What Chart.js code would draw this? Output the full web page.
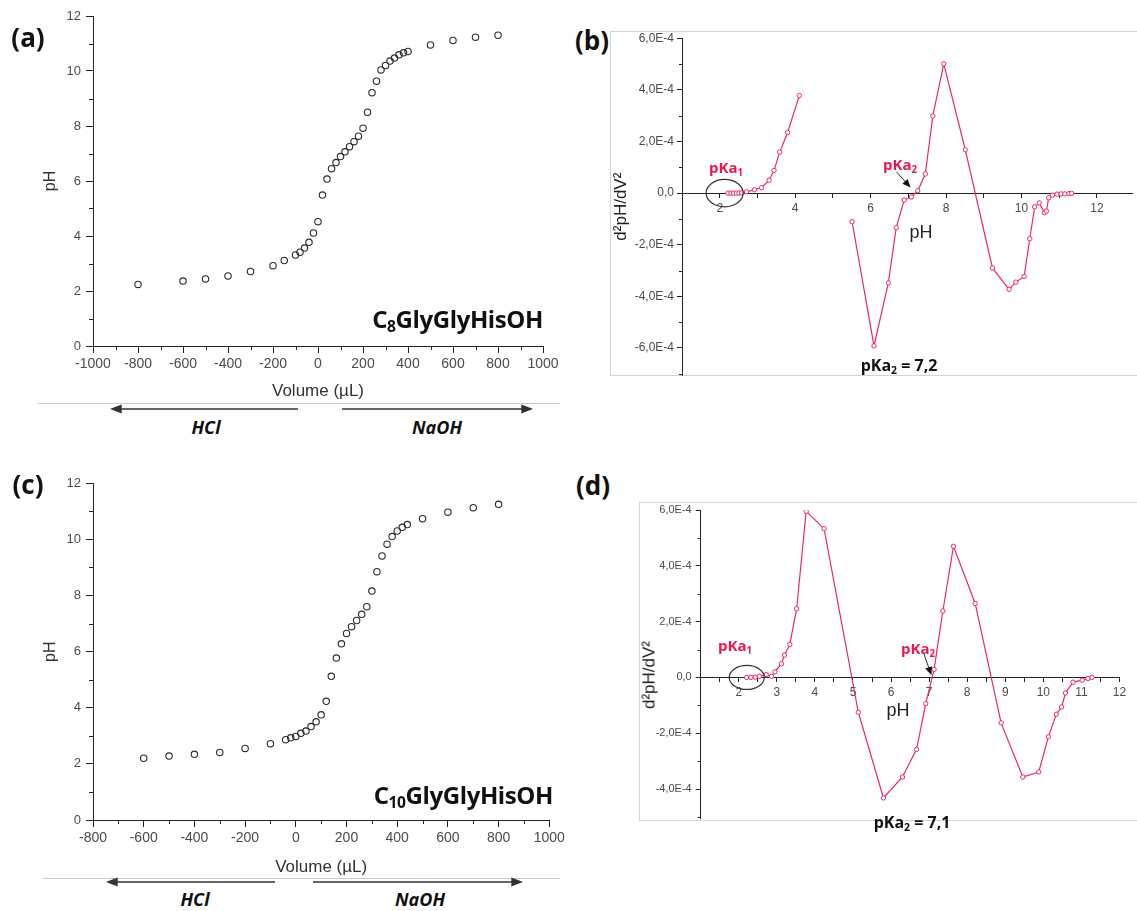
<!DOCTYPE html>
<html>
<head>
<meta charset="utf-8">
<title>Potentiometric titration of C8 / C10 GlyGlyHisOH</title>
<script src="https://cdn.jsdelivr.net/npm/chart.js@4.4.1/dist/chart.umd.min.js"></script>
<style>
  html, body { margin: 0; padding: 0; background: #fff; }
  #page { position: relative; width: 1137px; height: 911px; overflow: hidden; background: #fff; }
  #page canvas, #page svg { position: absolute; }
  .t { position: absolute; line-height: 1; white-space: nowrap; transform: translate(-50%, -50%);
       font-family: 'Open Sans', 'Noto Sans', sans-serif; font-weight: 700; color: #111; }
  .red { color: #e8194f; font-size: 15px; }
  .ax { font-family: 'Liberation Sans', Arial, sans-serif; font-weight: 400; color: #222; font-size: 18px; }
  .acid { font-style: italic; font-size: 18px; }
  .cmp { position: absolute; line-height: 1; white-space: nowrap; font-family: 'Open Sans', 'Noto Sans', sans-serif;
         font-weight: 700; font-size: 24px; letter-spacing: -0.4px; color: #111; }
  .sb { font-size: 0.65em; position: relative; top: 0.28em; }
</style>
</head>
<body>
<div id="page">
  <svg width="1137" height="911">
    <line x1="38" y1="403.5" x2="560" y2="403.5" stroke="#c9c9c9" />
    <line x1="43" y1="878.5" x2="560" y2="878.5" stroke="#c9c9c9" />
    <rect x="610.5" y="31.5" width="540" height="344" fill="none" stroke="#d4d4d4" />
    <rect x="639.5" y="502.5" width="510" height="318" fill="none" stroke="#d4d4d4" />
    <g stroke="#333" stroke-width="1.4" fill="#333">
      <line x1="119" y1="409" x2="298" y2="409" /><polygon points="112,409 121,405.5 121,412.5" />
      <line x1="342" y1="409" x2="524" y2="409" /><polygon points="531,409 522,405.5 522,412.5" />
      <line x1="115" y1="882" x2="275" y2="882" /><polygon points="108,882 117,878.5 117,885.5" />
      <line x1="313" y1="882" x2="514" y2="882" /><polygon points="521,882 512,878.5 512,885.5" />
    </g>
  </svg>

  <canvas id="chartA" width="570" height="405" style="left:0;top:0"></canvas>
  <canvas id="chartB" width="527" height="370" style="left:610px;top:20px"></canvas>
  <canvas id="chartC" width="570" height="416" style="left:0;top:465px"></canvas>
  <canvas id="chartD" width="498" height="335" style="left:639px;top:495px"></canvas>

  <div class="t" style="left:28px;top:37px;font-size:26px">(a)</div>
  <div class="t" style="left:592px;top:40px;font-size:26px">(b)</div>
  <div class="t" style="left:28px;top:484px;font-size:26px">(c)</div>
  <div class="t" style="left:593px;top:485px;font-size:26px">(d)</div>

  <div class="cmp" style="top:306.7px;right:594px">C<span class="sb">8</span>GlyGlyHisOH</div>
  <div class="cmp" style="top:782.7px;right:584px">C<span class="sb">10</span>GlyGlyHisOH</div>

  <div class="t acid" style="left:206px;top:427px">HCl</div>
  <div class="t acid" style="left:437px;top:427px">NaOH</div>
  <div class="t acid" style="left:195px;top:899px">HCl</div>
  <div class="t acid" style="left:420px;top:899px">NaOH</div>

  <div class="t red" style="left:726px;top:167px">pKa<span class="sb">1</span></div>
  <div class="t red" style="left:900px;top:164px">pKa<span class="sb">2</span></div>
  <div class="t" style="left:899px;top:365px;font-size:16px">pKa<span class="sb">2</span> = 7,2</div>
  <div class="t ax" style="left:921px;top:232px">pH</div>

  <div class="t red" style="left:735px;top:645px">pKa<span class="sb">1</span></div>
  <div class="t red" style="left:918px;top:648px">pKa<span class="sb">2</span></div>
  <div class="t" style="left:912px;top:822px;font-size:16px">pKa<span class="sb">2</span> = 7,1</div>
  <div class="t ax" style="left:898px;top:710px">pH</div>
  <div class="t ax" style="left:649px;top:675px;font-size:17px;transform:translate(-50%,-50%) rotate(-90deg)">d²pH/dV²</div>
</div>

<script>
// (a) C8GlyGlyHisOH : added volume (µL, negative = HCl) and measured pH
const volA = [-800, -600, -500, -400, -300, -200, -150, -100, -80, -60, -40, -20,
  0, 20, 40, 60, 80, 100, 120, 140, 160, 180, 200, 220, 240, 260, 280, 300, 320, 340, 360, 380, 400,
  500, 600, 700, 800];
const phA = [2.24, 2.36, 2.44, 2.55, 2.71, 2.92, 3.11, 3.31, 3.41, 3.56, 3.77, 4.11,
  4.52, 5.49, 6.07, 6.45, 6.67, 6.89, 7.06, 7.25, 7.43, 7.63, 7.92, 8.50, 9.21, 9.63, 10.04, 10.20, 10.36, 10.47, 10.59, 10.66, 10.71,
  10.95, 11.11, 11.23, 11.30];

// (c) C10GlyGlyHisOH
const volC = [-600, -500, -400, -300, -200, -100, -40, -20,
  0, 20, 40, 60, 80, 100, 120, 140, 160, 180, 200, 220, 240, 260, 280, 300, 320, 340, 360, 380, 400, 420, 440,
  500, 600, 700, 800];
const phC = [2.20, 2.28, 2.34, 2.41, 2.55, 2.72, 2.86, 2.93,
  2.98, 3.09, 3.17, 3.33, 3.50, 3.75, 4.23, 5.12, 5.77, 6.28, 6.65, 6.89, 7.11, 7.33, 7.60, 8.16, 8.85, 9.41, 9.83, 10.10, 10.30, 10.43, 10.53,
  10.74, 10.97, 11.13, 11.25];

// (b) second derivative of C8 curve, values in units of 1E-4 (two separate pieces)
const phB1 = [2.22, 2.30, 2.37, 2.44, 2.51, 2.58, 2.71, 2.92, 3.11, 3.31, 3.44, 3.59, 3.80, 4.11];
const d2B1 = [0, 0, 0, 0, 0, 0.01, 0.05, 0.13, 0.21, 0.50, 0.88, 1.59, 2.35, 3.78];
const phB2 = [5.51, 6.09, 6.47, 6.68, 6.89, 7.08, 7.25, 7.45, 7.65, 7.94,
  8.51, 9.23, 9.67, 9.85, 10.07, 10.22, 10.35, 10.47, 10.61, 10.66,
  10.72, 10.82, 10.94, 11.05, 11.15, 11.26, 11.33];
const d2B2 = [-1.11, -5.92, -3.48, -1.34, -0.27, -0.15, 0.09, 0.74, 2.99, 5.01,
  1.68, -2.90, -3.73, -3.45, -3.23, -1.77, -0.53, -0.38, -0.76, -0.70,
  -0.18, -0.08, -0.04, -0.03, -0.03, -0.02, -0.01];

// (d) second derivative of C10 curve, units of 1E-4
const phD = [2.21, 2.32, 2.43, 2.54, 2.72, 2.86, 2.95, 3.12, 3.20, 3.34,
  3.52, 3.77, 4.24, 5.14, 5.80, 6.30, 6.67, 6.91, 7.13, 7.36,
  7.64, 8.21, 8.89, 9.46, 9.88, 10.13, 10.34, 10.48, 10.58, 10.78,
  11.02, 11.17, 11.28];
const d2D = [0, 0, 0.01, 0.04, 0.10, 0.04, 0.20, 0.49, 0.80, 1.18,
  2.46, 5.95, 5.33, -1.25, -4.32, -3.57, -2.58, -0.94, 0.29, 2.38,
  4.70, 2.65, -1.63, -3.57, -3.39, -2.13, -1.32, -1.06, -0.56, -0.17,
  -0.10, -0.04, 0];

// tick positions of the derivative plots
const xTicksB = [1, 2, 3, 4, 5, 6, 7, 8, 9, 10, 11, 12];
const yTicksB = [-6e-4, -4e-4, -2e-4, 0, 2e-4, 4e-4, 6e-4];
const xTicksD = [1, 1.5, 2, 2.5, 3, 3.5, 4, 4.5, 5, 5.5, 6, 6.5, 7, 7.5, 8, 8.5, 9, 9.5, 10, 10.5, 11, 11.5, 12];
const yTicksD = [-4e-4, -2e-4, 0, 2e-4, 4e-4, 6e-4];

const RED = '#ea2a5f';
Chart.defaults.font.family = "'Liberation Sans', Arial, sans-serif";
Chart.defaults.color = '#4a4a4a';

function pts(xs, ys, k) {
  k = k || 1;
  return xs.map((x, i) => ({ x: x, y: ys[i] * k }));
}

// "6,0E-4" style labels
function e4Label(v) {
  const m = Math.round(v * 1e5) / 10;
  if (m === 0) return '0,0';
  return m.toFixed(1).replace('.', ',') + 'E-4';
}

// short ticks between the labelled ones
const minorTicks = {
  id: 'minorTicks',
  afterDraw(chart, args, opts) {
    const ctx = chart.ctx;
    ctx.save();
    ctx.strokeStyle = '#222';
    ctx.lineWidth = 1;
    ['x', 'y'].forEach(id => {
      const o = opts[id];
      if (!o) return;
      const s = chart.scales[id];
      const n0 = Math.ceil(s.min / o.step - 1e-9), n1 = Math.floor(s.max / o.step + 1e-9);
      for (let n = n0; n <= n1; n++) {
        if (n % 2 === 0) continue;
        const p = Math.round(s.getPixelForValue(n * o.step)) + 0.5;
        ctx.beginPath();
        if (id === 'x') {
          const y0 = chart.chartArea.bottom;
          ctx.moveTo(p, y0); ctx.lineTo(p, y0 + o.len);
        } else {
          const x0 = chart.chartArea.left;
          ctx.moveTo(x0, p); ctx.lineTo(x0 - o.len, p);
        }
        ctx.stroke();
      }
    });
    ctx.restore();
  }
};

// ring around the pKa1 points and the little arrow to pKa2
const pkaMarks = {
  id: 'pkaMarks',
  afterDatasetsDraw(chart, args, opts) {
    if (!opts || !opts.ring) return;
    const xs = chart.scales.x, ys = chart.scales.y, ctx = chart.ctx;
    ctx.save();
    ctx.strokeStyle = '#333';
    ctx.fillStyle = '#111';
    ctx.lineWidth = 1.2;
    const r = opts.ring;
    ctx.beginPath();
    ctx.ellipse(xs.getPixelForValue(r.x), ys.getPixelForValue(r.y), r.rx, r.ry, 0, 0, Math.PI * 2);
    ctx.stroke();

    const a = opts.arrow;
    const x1 = xs.getPixelForValue(a.from[0]), y1 = ys.getPixelForValue(a.from[1] * 1e-4);
    const x2 = xs.getPixelForValue(a.to[0]), y2 = ys.getPixelForValue(a.to[1] * 1e-4);
    const ang = Math.atan2(y2 - y1, x2 - x1);
    ctx.lineWidth = 1;
    ctx.beginPath();
    ctx.moveTo(x1, y1);
    ctx.lineTo(x2 - 6 * Math.cos(ang), y2 - 6 * Math.sin(ang));
    ctx.stroke();
    ctx.beginPath();
    ctx.moveTo(x2, y2);
    ctx.lineTo(x2 - 9 * Math.cos(ang - 0.4), y2 - 9 * Math.sin(ang - 0.4));
    ctx.lineTo(x2 - 9 * Math.cos(ang + 0.4), y2 - 9 * Math.sin(ang + 0.4));
    ctx.closePath();
    ctx.fill();
    ctx.restore();
  }
};

function titrationChart(id, vol, ph, xMin, pad, xAxisH) {
  return new Chart(document.getElementById(id), {
    type: 'scatter',
    data: {
      datasets: [{
        data: pts(vol, ph),
        pointRadius: 3.2,
        pointBorderWidth: 1.1,
        pointBorderColor: '#2b2b2b',
        pointBackgroundColor: 'rgba(0,0,0,0)'
      }]
    },
    options: {
      responsive: false,
      animation: false,
      devicePixelRatio: 1,
      layout: { padding: pad },
      plugins: {
        legend: { display: false },
        tooltip: { enabled: false },
        minorTicks: { x: { step: 100, len: 4 }, y: { step: 1, len: 4 } }
      },
      scales: {
        x: {
          type: 'linear', min: xMin, max: 1000,
          afterFit: s => { s.height = xAxisH; },
          ticks: { stepSize: 200, autoSkip: false, maxRotation: 0, padding: 3, font: { size: 14 },
                   callback: v => String(v) },
          grid: { drawOnChartArea: false, tickLength: 7, color: '#222' },
          border: { color: '#222' },
          title: { display: true, text: 'Volume (µL)', font: { size: 17 }, color: '#333',
                   padding: { top: 0, bottom: 3 } }
        },
        y: {
          min: 0, max: 12,
          afterFit: s => { s.width = 93; },
          ticks: { stepSize: 2, autoSkip: false, padding: 5, font: { size: 13 } },
          grid: { drawOnChartArea: false, tickLength: 7, color: '#222' },
          border: { color: '#222' },
          title: { display: true, text: 'pH', font: { size: 16 }, color: '#333',
                   padding: { top: 41, bottom: 0 } }
        }
      }
    },
    plugins: [minorTicks]
  });
}

function derivChart(id, sets, cfg) {
  return new Chart(document.getElementById(id), {
    type: 'scatter',
    data: {
      datasets: sets.map(d => ({
        data: d,
        showLine: true,
        borderColor: RED,
        borderWidth: 1.2,
        pointRadius: 2.2,
        pointBorderWidth: 1,
        pointBorderColor: RED,
        pointBackgroundColor: '#fff'
      }))
    },
    options: {
      responsive: false,
      animation: false,
      devicePixelRatio: 1,
      layout: { padding: cfg.pad },
      plugins: {
        legend: { display: false },
        tooltip: { enabled: false },
        minorTicks: { y: { step: 1e-4, len: 3 } },
        pkaMarks: cfg.marks
      },
      scales: {
        x: {
          type: 'linear', position: { y: 0 }, min: 1, max: cfg.xMax,
          afterBuildTicks: s => { s.ticks = cfg.xTicks.map(v => ({ value: v })); },
          ticks: { autoSkip: false, maxRotation: 0, padding: 4,
                   font: { size: 12 }, callback: cfg.xLabel },
          grid: { drawOnChartArea: false, tickLength: 4, color: '#222' },
          border: { color: '#222' }
        },
        y: {
          min: cfg.yMin, max: 6e-4,
          afterFit: s => { s.width = cfg.yW; },
          afterBuildTicks: s => { s.ticks = cfg.yTicks.map(v => ({ value: v })); },
          ticks: { autoSkip: false, padding: cfg.yPad,
                   font: { size: cfg.yFont }, callback: e4Label },
          grid: { drawOnChartArea: false, tickLength: 5, color: '#222' },
          border: { color: '#222' },
          title: cfg.yTitle
        }
      }
    },
    plugins: [minorTicks, pkaMarks]
  });
}

titrationChart('chartA', volA, phA, -1000, { left: 0, top: 16, right: 27, bottom: 0 }, 59);
titrationChart('chartC', volC, phC, -800, { left: 0, top: 18.3, right: 20.7, bottom: 0 }, 61);

derivChart('chartB', [pts(phB1, d2B1, 1e-4), pts(phB2, d2B2, 1e-4)], {
  pad: { left: 0, top: 18.3, right: 0, bottom: 15 },
  xMax: 12.93, xTicks: xTicksB,
  xLabel: v => (v >= 2 && v % 2 === 0) ? String(v) : '',
  yMin: -7.05e-4, yTicks: yTicksB, yW: 72, yFont: 12, yPad: 3,
  yTitle: { display: true, text: 'd²pH/dV²', font: { size: 17 }, color: '#222', padding: { top: 1.5, bottom: 0 } },
  marks: { ring: { x: 2.13, y: 0, rx: 18.5, ry: 13.7 }, arrow: { from: [6.68, 0.83], to: [7.06, 0.22] } }
});

derivChart('chartD', [pts(phD, d2D, 1e-4)], {
  pad: { left: 0, top: 15, right: 17.5, bottom: 11.7 },
  xMax: 12, xTicks: xTicksD,
  xLabel: v => (v >= 2 && Number.isInteger(v)) ? String(v) : '',
  yMin: -5.05e-4, yTicks: yTicksD, yW: 61.7, yFont: 11, yPad: 4,
  yTitle: { display: false },
  marks: { ring: { x: 2.21, y: 0, rx: 17.5, ry: 12 }, arrow: { from: [6.86, 0.85], to: [7.06, 0.08] } }
});
</script>
</body>
</html>
